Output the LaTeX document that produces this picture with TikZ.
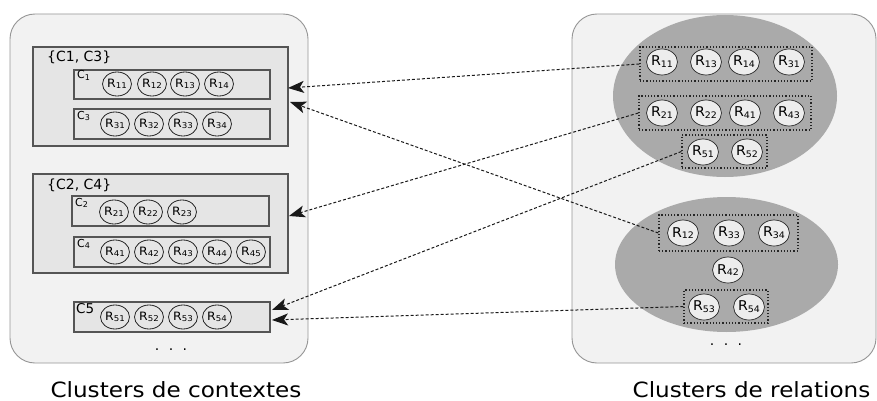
\documentclass[tikz,border=0pt]{standalone}
\usepackage{fontspec}
\setmainfont{DejaVu Sans}
\usetikzlibrary{shapes.geometric,arrows.meta}
\definecolor{panelfill}{HTML}{F2F2F2}
\definecolor{panelline}{HTML}{959595}
\definecolor{boxfill}{HTML}{E5E5E5}
\definecolor{boxline}{HTML}{555555}
\definecolor{ellfill}{HTML}{AAAAAA}
\definecolor{circfill}{HTML}{EDEDED}
\newcommand\lsub[1]{\raisebox{-0.25ex}{\fontsize{8}{8}\selectfont #1}}
\newcommand\rsub[1]{\raisebox{-0.25ex}{\fontsize{9}{9}\selectfont #1}}
\newcommand\lR[1]{\scalebox{1.08}[1]{\fontsize{11.5}{11.5}\selectfont R\lsub{#1}}}
\newcommand\rR[1]{\scalebox{1.05}[1]{\fontsize{13.5}{13.5}\selectfont R\rsub{#1}}}
\begin{document}
\begin{tikzpicture}[x=1pt,y=-1pt,
  panel/.style={draw=panelline,fill=panelfill,line width=0.9pt,rounded corners=25pt,rectangle,inner sep=0pt},
  gbox/.style={draw=boxline,fill=boxfill,line width=1.1pt,rectangle,inner sep=0pt},
  lc/.style={ellipse,draw=black!85,line width=0.8pt,minimum width=29pt,minimum height=24pt,inner sep=0pt},
  rc/.style={ellipse,draw=black!85,fill=circfill,line width=0.7pt,minimum width=29pt,minimum height=26pt,inner sep=0pt},
  dbox/.style={draw=black!85,dotted,line width=1.2pt,rectangle,inner sep=0pt},
  ell/.style={ellipse,fill=ellfill,inner sep=0pt},
  conn/.style={dashed,dash pattern=on 3pt off 2pt,line width=1pt,black!90,-{Stealth[length=16pt,width=12pt,inset=4pt]}},
  lab/.style={inner sep=0pt,font=\fontsize{21}{24}\selectfont},
  dots/.style={inner sep=0pt,font=\fontsize{14}{14}\selectfont}
]
\useasboundingbox (0,0) rectangle (877,401);
% panels
\node[panel,minimum width=298pt,minimum height=349pt] (lp) at (159,188.5) {};
\node[panel,minimum width=304pt,minimum height=349pt] (rp) at (724,188.5) {};
% left groups
\node[gbox,minimum width=255pt,minimum height=99pt] (g1) at (160.5,96.5) {};
\node[gbox,minimum width=255pt,minimum height=99pt] (g2) at (160.5,223.5) {};
\node[anchor=base west,inner sep=0pt,font=\fontsize{14}{14}\selectfont] (g1l) at (47,62) {\{C1, C3\}};
\node[anchor=base west,inner sep=0pt,font=\fontsize{14}{14}\selectfont] (g2l) at (47,189) {\{C2, C4\}};
\node[gbox,minimum width=196pt,minimum height=29pt] (c1) at (172,84.5) {};
\node[gbox,minimum width=196pt,minimum height=30pt] (c3) at (172,124) {};
\node[gbox,minimum width=197pt,minimum height=30pt] (c2) at (170.5,211) {};
\node[gbox,minimum width=196pt,minimum height=30pt] (c4) at (172,252) {};
\node[gbox,minimum width=196pt,minimum height=30pt] (c5) at (172,317) {};
\node[anchor=base west,inner sep=0pt] (c1l) at (77,79) {\fontsize{11}{11}\selectfont C\lsub{1}};
\node[anchor=base west,inner sep=0pt] (c3l) at (77,119) {\fontsize{11}{11}\selectfont C\lsub{3}};
\node[anchor=base west,inner sep=0pt] (c2l) at (75,206) {\fontsize{11}{11}\selectfont C\lsub{2}};
\node[anchor=base west,inner sep=0pt] (c4l) at (77,247) {\fontsize{11}{11}\selectfont C\lsub{4}};
\node[anchor=base west,inner sep=0pt,font=\fontsize{13.5}{13.5}\selectfont] (c5l) at (76,313) {C5};
% left circles
\node[lc] (l11) at (117,84) {\lR{11}};
\node[lc] (l12) at (152,84) {\lR{12}};
\node[lc] (l13) at (185,84) {\lR{13}};
\node[lc] (l14) at (219,84) {\lR{14}};
\node[lc] (l31) at (115,124) {\lR{31}};
\node[lc] (l32) at (149,124) {\lR{32}};
\node[lc] (l33) at (183,124) {\lR{33}};
\node[lc] (l34) at (217,124) {\lR{34}};
\node[lc] (l21) at (114,212) {\lR{21}};
\node[lc] (l22) at (148,212) {\lR{22}};
\node[lc] (l23) at (182,212) {\lR{23}};
\node[lc] (l41) at (115,252) {\lR{41}};
\node[lc] (l42) at (149,252) {\lR{42}};
\node[lc] (l43) at (183,252) {\lR{43}};
\node[lc] (l44) at (217,252) {\lR{44}};
\node[lc] (l45) at (251,252) {\lR{45}};
\node[lc] (l51) at (115,317) {\lR{51}};
\node[lc] (l52) at (149,317) {\lR{52}};
\node[lc] (l53) at (183,317) {\lR{53}};
\node[lc] (l54) at (217,317) {\lR{54}};
\node[dots] (ldots) at (171,350) {.\hspace{9.5pt}.\hspace{9.5pt}.};
% right ellipses
\node[ell,minimum width=224pt,minimum height=162pt] (e1) at (725,96) {};
\node[ell,minimum width=223pt,minimum height=135pt] (e2) at (726.5,264.5) {};
\node[dbox,minimum width=172pt,minimum height=34pt] (d1) at (726,64) {};
\node[dbox,minimum width=172pt,minimum height=34pt] (d2) at (725,113) {};
\node[dbox,minimum width=85pt,minimum height=33pt] (d3) at (724.5,151.5) {};
\node[dbox,minimum width=139pt,minimum height=36pt] (d4) at (728.5,233) {};
\node[dbox,minimum width=84pt,minimum height=33pt] (d5) at (726,306.5) {};
\node[rc] (r11) at (662,62) {\rR{11}};
\node[rc] (r13) at (706,62) {\rR{13}};
\node[rc] (r14) at (744,62) {\rR{14}};
\node[rc] (r31) at (789,62) {\rR{31}};
\node[rc] (r21) at (662,113) {\rR{21}};
\node[rc] (r22) at (706,113) {\rR{22}};
\node[rc] (r41) at (745,113) {\rR{41}};
\node[rc] (r43) at (789,113) {\rR{43}};
\node[rc] (r51) at (703,152) {\rR{51}};
\node[rc] (r52) at (747,152) {\rR{52}};
\node[rc] (r12) at (683,233) {\rR{12}};
\node[rc] (r33) at (729,233) {\rR{33}};
\node[rc] (r34) at (774,233) {\rR{34}};
\node[rc] (r42) at (728,270) {\rR{42}};
\node[rc] (r53) at (704,307) {\rR{53}};
\node[rc] (r54) at (749,307) {\rR{54}};
\node[dots] (rdots) at (726,345) {.\hspace{9.5pt}.\hspace{9.5pt}.};
% captions
\node[lab,anchor=base] (capl) at (176,397) {\scalebox{1.1}[1]{Clusters de contextes}};
\node[lab,anchor=base] (capr) at (751.5,397) {\scalebox{1.1}[1]{Clusters de relations}};
% connectors
\coordinate (t1) at (288,88);
\coordinate (t2) at (290,102);
\coordinate (t3) at (289,216);
\coordinate (t4) at (272,310);
\coordinate (t5) at (272,320);
\draw[conn] (d1.west) -- (t1);
\draw[conn] (d4.west) -- (t2);
\draw[conn] (d2.west) -- (t3);
\draw[conn] (d3.west) -- (t4);
\draw[conn] (d5.west) -- (t5);
\end{tikzpicture}
\end{document}
